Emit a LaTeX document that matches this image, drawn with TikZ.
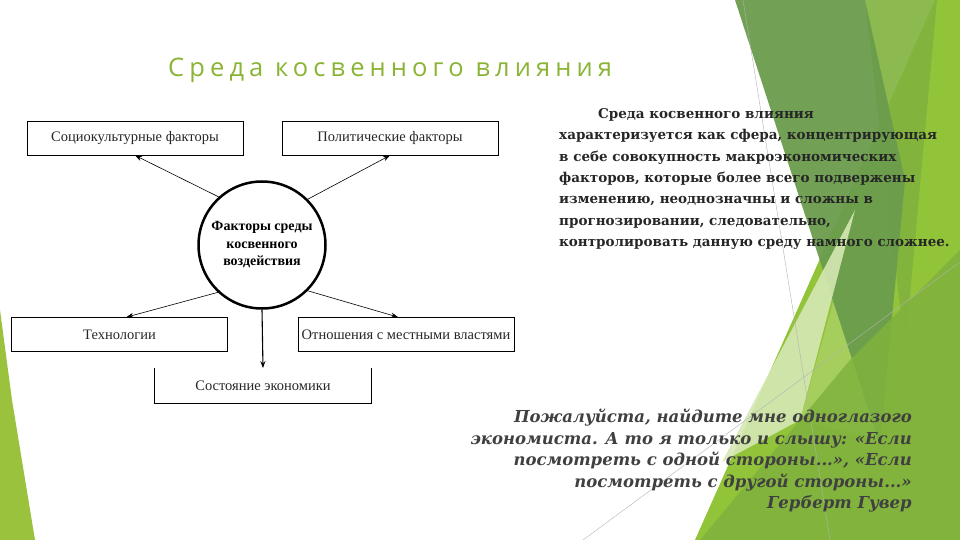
\documentclass[tikz,border=0pt]{standalone}
\usepackage{fontspec}
\setmainfont{Liberation Serif}
\newfontfamily\titlefont[LetterSpace=20]{Open Sans}
\newfontfamily\bodyfont{DejaVu Serif}
\usetikzlibrary{arrows.meta,calc}
\definecolor{titlegreen}{RGB}{138,180,52}
\definecolor{darkg}{RGB}{106,156,76}
\definecolor{midg}{RGB}{128,178,62}
\definecolor{brightg}{RGB}{146,196,58}
\definecolor{lightg}{RGB}{168,208,96}
\definecolor{paleg}{RGB}{214,232,180}
\definecolor{leftg}{RGB}{154,194,60}
\definecolor{txtdark}{RGB}{38,38,38}
\definecolor{quotec}{RGB}{64,64,64}
\tikzset{
  fbox/.style={draw,line width=0.8pt,minimum width=216pt,minimum height=34pt,inner sep=0pt,text=black!85,font=\fontsize{14.5}{16}\selectfont},
  arr/.style={line width=0.6pt,-{Stealth[length=7pt,width=5pt]}},
  deco/.style={draw=none},
  thinline/.style={draw=gray!60,line width=0.4pt}
}
\begin{document}
\begin{tikzpicture}[x=1pt,y=-1pt]
\useasboundingbox (0,0) rectangle (960,540);
% decoration right
\fill[deco,brightg] (935,0) -- (960,0) -- (960,540) -- (695,540) -- cycle;
\fill[deco,midg,opacity=0.9] (865,0) -- (937,0) -- (905,350) -- cycle;
\fill[deco,lightg,opacity=0.9] (862,200) -- (880,440) -- (800,420) -- cycle;
\fill[deco,darkg,opacity=0.95] (735,0) -- (865,0) -- (905,180) -- (880,445) -- cycle;
\fill[deco,paleg,opacity=0.9] (855,210) -- (800,420) -- (722,462) -- cycle;
\fill[deco,midg,opacity=0.85] (850,360) -- (960,250) -- (960,540) -- (700,540) -- cycle;
\draw[thinline] (743,0) -- (830,540);
\draw[thinline] (583,540) -- (960,262);
% left decoration
\fill[deco,leftg] (0,310) -- (12,400) -- (35,540) -- (0,540) -- cycle;
% title
\node[anchor=base west,inner sep=0pt,text=titlegreen,font=\titlefont\fontsize{25.5}{30}\selectfont] (title) at (168,77) {Среда косвенного влияния};
% diagram
\node[fbox] (socio) at (135,138) {Социокультурные факторы};
\node[fbox] (polit) at (390,138) {Политические факторы};
\node[fbox] (tech) at (119.5,334.5) {Технологии};
\node[fbox] (rel) at (406,334.5) {Отношения с местными властями};
\node[fbox,draw=none] (econ) at (263,385.5) {Состояние экономики};
\draw[line width=0.8pt] (econ.north west) -- (econ.south west) -- (econ.south east) -- (econ.north east);
\node[circle,draw,line width=2.5pt,minimum size=127pt,inner sep=0pt,align=center,font=\bfseries\fontsize{14}{17.5}\selectfont] (circ) at (262,245) {Факторы среды\\косвенного\\воздействия};
\draw[arr] (circ.132) -- (socio.south);
\draw[arr] (circ.45) -- (polit.south);
\draw[arr] (circ.227) -- ([xshift=7pt]tech.north);
\draw[arr] (circ.315) -- ([xshift=-8pt]rel.north);
\draw[arr,line width=1.1pt] (circ.south) -- (econ.north);
% right text
\node[anchor=north west,inner sep=0pt,align=left,text=txtdark,font=\bodyfont\bfseries\fontsize{13.5}{21.4}\selectfont] (desc) at (559,108) {\hspace*{39pt}Среда косвенного влияния\\характеризуется как сфера, концентрирующая\\в себе совокупность макроэкономических\\факторов, которые более всего подвержены\\изменению, неоднозначны и сложны в\\прогнозировании, следовательно,\\контролировать данную среду намного сложнее.};
% quote
\node[anchor=north east,inner sep=0pt,align=right,text=quotec,font=\bodyfont\bfseries\itshape\fontsize{16.5}{21.5}\selectfont] (quote) at (912,409) {Пожалуйста, найдите мне одноглазого\\экономиста. А то я только и слышу: «Если\\посмотреть с одной стороны...», «Если\\посмотреть с другой стороны...»\\Герберт Гувер};
\end{tikzpicture}
\end{document}
